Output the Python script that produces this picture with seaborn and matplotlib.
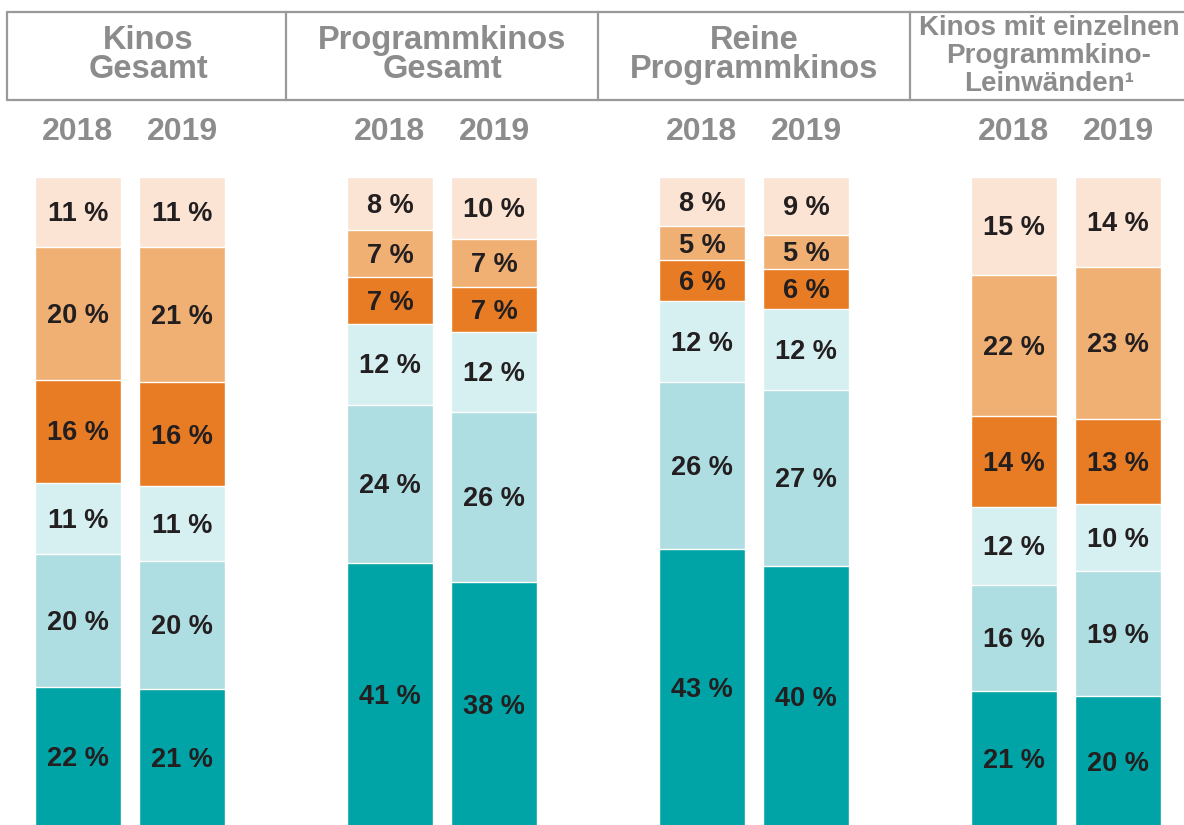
import matplotlib
matplotlib.use("Agg")
import matplotlib.pyplot as plt
from matplotlib.lines import Line2D
import seaborn as sns
import pandas as pd

# --- data (shares in %, bottom segment first) ---
groups = ["Kinos\nGesamt", "Programmkinos\nGesamt", "Reine\nProgrammkinos",
          "Kinos mit einzelnen\nProgrammkino-\nLeinwänden¹"]
years = ["2018", "2019"]
seg1 = [21.6, 21.2, 40.6, 37.7, 42.8, 40.2, 21.0, 20.2]
seg2 = [20.4, 19.8, 24.4, 26.2, 25.7, 27.1, 16.2, 19.2]
seg3 = [11.0, 11.4, 12.4, 12.3, 12.4, 12.4, 12.0, 10.3]
seg4 = [15.8, 16.0, 7.2, 6.9, 6.3, 6.2, 14.0, 13.1]
seg5 = [20.4, 20.8, 7.2, 7.3, 5.2, 5.2, 21.7, 23.4]
seg6 = [10.8, 10.8, 8.2, 9.6, 7.6, 8.9, 15.1, 13.8]
segments = [seg1, seg2, seg3, seg4, seg5, seg6]
colors = ["#00A4A6", "#AEDDE2", "#D6EFF1", "#E87C25", "#F0AF73", "#FBE4D3"]

# bar positions: two years per group, one empty slot between groups
pos = [3 * g + y for g in range(len(groups)) for y in range(len(years))]

sns.set_style("white")
plt.rcParams["font.family"] = ["Liberation Sans", "DejaVu Sans"]

W, H = 1184, 825
fig = plt.figure(figsize=(W / 100, H / 100), dpi=100)
ax = fig.add_axes([0, 0, 1, 1])

# stacked bars via overlaid cumulative totals, top level first
cums = []
running = [0] * len(pos)
for seg in segments:
    running = [r + v for r, v in zip(running, seg)]
    cums.append(running)

for k in range(len(segments) - 1, -1, -1):
    df = pd.DataFrame({"pos": pos, "total": cums[k]})
    sns.barplot(data=df, x="pos", y="total", native_scale=True, width=0.83,
                color=colors[k], saturation=1, errorbar=None,
                edgecolor="white", linewidth=1.0, ax=ax)

# percent labels (nudged down a touch so the glyphs sit centred)
for i, p in enumerate(pos):
    bottom = 0
    for seg in segments:
        v = seg[i]
        ax.text(p, bottom + v / 2 - 0.35, f"{v:.0f} %", ha="center", va="center",
                fontsize=19.5, fontweight="bold", color="#231F20")
        bottom += v

ax.set_xlim(-0.75, 10.635)
ax.set_ylim(0.31, 127.23)
ax.axis("off")

grey = "#8C8C8C"

# year labels
for i, p in enumerate(pos):
    ax.text(p, 106.9, years[i % 2], ha="center", va="center",
            fontsize=23, fontweight="bold", color=grey)

# header boxes
def fx(px):
    return px / W

def fy(py):
    return 1 - py / H

for (x0, y0, x1, y1) in [(7, 12, W, 12), (7, 100, W, 100),
                         (7, 12, 7, 100), (286, 12, 286, 100),
                         (598, 12, 598, 100), (910, 12, 910, 100)]:
    fig.add_artist(Line2D([fx(x0), fx(x1)], [fy(y0), fy(y1)],
                          transform=fig.transFigure, color="#999999", lw=1.6))

header_x = [148, 442, 754, 1049]
header_y = [55, 55, 55, 56]
header_fs = [23.5, 23.5, 23.5, 20]
header_ls = [0.9, 0.9, 0.9, 1.1]
for name, hx, hy, fs, ls in zip(groups, header_x, header_y, header_fs, header_ls):
    fig.text(fx(hx), fy(hy), name, ha="center", va="center", fontsize=fs,
             fontweight="bold", color=grey, linespacing=ls, multialignment="center")

fig.savefig("out.png", dpi=100)
